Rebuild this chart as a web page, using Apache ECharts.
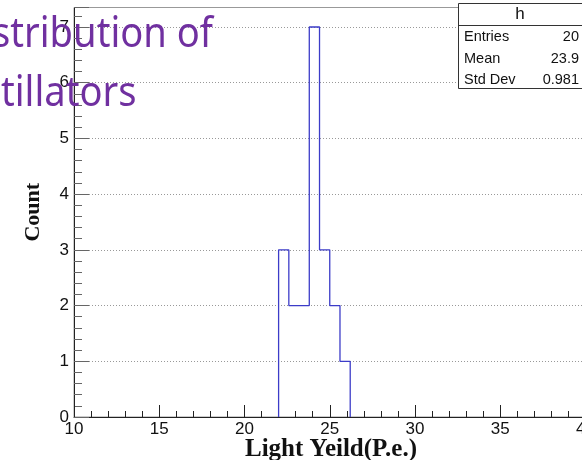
<!DOCTYPE html>
<html>
<head>
<meta charset="utf-8">
<script src="https://cdn.jsdelivr.net/npm/echarts@6/dist/echarts.min.js"></script>
<style>
html,body{margin:0;padding:0;background:#fff;overflow:hidden;width:582px;height:460px;}
#c{width:760px;height:460px;}
</style>
</head>
<body>
<div id="c"></div>
<script>
// Histogram bin edges (P.e.) and counts
var binEdges = [22.0, 22.6, 23.2, 23.8, 24.4, 25.0, 25.6, 26.2];
var counts = [3, 2, 2, 7, 3, 2, 1];
// Stats box
var statNames = ['Entries', 'Mean', 'Std Dev'];
var statValues = ['20', '23.9', '0.981'];
var histName = 'h';
// Axis ranges / ticks
var xMin = 10, xMax = 50, xStep = 5;
var yMin = 0, yMax = 7.35, yStep = 1;
var xTitle = 'Light Yeild(P.e.)';
var yTitle = 'Count';
var titleLines = ['stribution of', 'tillators'];

var pts = [[binEdges[0], 0]];
for (var i = 0; i < counts.length; i++) {
  pts.push([binEdges[i], counts[i]]);
  pts.push([binEdges[i + 1], counts[i]]);
}
pts.push([binEdges[binEdges.length - 1], 0]);

var chart = echarts.init(document.getElementById('c'), null, {renderer: 'canvas'});
var sans = '"Liberation Sans", Arial, sans-serif';
var serif = '"Liberation Serif", "Times New Roman", serif';

var statGraphics = [
  {type: 'rect', shape: {x: 458.5, y: 3.5, width: 130, height: 85}, style: {fill: '#fff', stroke: '#333', lineWidth: 1}, z: 100},
  {type: 'line', shape: {x1: 458.5, y1: 25.5, x2: 590, y2: 25.5}, style: {stroke: '#333', lineWidth: 1}, z: 101},
  {type: 'text', x: 520, y: 14.5, style: {text: histName, font: '17px ' + sans, fill: '#111', textAlign: 'center', textVerticalAlign: 'middle'}, z: 101}
];
for (var k = 0; k < statNames.length; k++) {
  var yy = 37 + k * 21.7;
  statGraphics.push({type: 'text', x: 464, y: yy, style: {text: statNames[k], font: '14.5px ' + sans, fill: '#111', textAlign: 'left', textVerticalAlign: 'middle'}, z: 101});
  statGraphics.push({type: 'text', x: 579, y: yy, style: {text: statValues[k], font: '14.5px ' + sans, fill: '#111', textAlign: 'right', textVerticalAlign: 'middle'}, z: 101});
}

var option = {
  backgroundColor: '#fff',
  animation: false,
  grid: {left: 74, right: 4, top: 7.5, bottom: 43, outerBoundsMode: 'none', containLabel: false,
    show: true, borderColor: '#999', borderWidth: 1, backgroundColor: 'transparent'},
  xAxis: {
    type: 'value', min: xMin, max: xMax, interval: xStep,
    axisLine: {show: true, lineStyle: {color: '#222', width: 1}},
    axisTick: {show: true, inside: true, length: 12, lineStyle: {color: '#222'}},
    minorTick: {show: true, splitNumber: 5, length: 6, lineStyle: {color: '#222'}},
    axisLabel: {fontFamily: sans, fontSize: 17, color: '#111', margin: 4, showMaxLabel: false},
    splitLine: {show: false}
  },
  yAxis: {
    type: 'value', min: yMin, max: yMax, interval: yStep,
    name: yTitle, nameLocation: 'middle', nameGap: 30, nameRotate: 90,
    nameTextStyle: {fontFamily: serif, fontWeight: 'bold', fontSize: 22, color: '#111'},
    axisLine: {show: true, lineStyle: {color: '#222', width: 1}},
    axisTick: {show: true, inside: true, length: 15, lineStyle: {color: '#666'}},
    minorTick: {show: true, splitNumber: 5, length: 8, lineStyle: {color: '#666'}},
    axisLabel: {fontFamily: sans, fontSize: 17, color: '#111', margin: 5,
      formatter: function (v) { return (Math.abs(v - Math.round(v)) < 1e-6) ? String(Math.round(v)) : ''; }},
    splitLine: {show: true, lineStyle: {color: '#999', type: [1, 2], width: 1}}
  },
  series: [{
    type: 'line', data: pts, showSymbol: false, symbol: 'none',
    lineStyle: {color: '#3c3cc8', width: 1.3}, z: 5
  }],
  graphic: statGraphics.concat([
    {type: 'text', x: 331, y: 450, style: {text: xTitle, font: 'bold 25px ' + serif, fill: '#111', textAlign: 'center', textVerticalAlign: 'middle'}, z: 150},
    {type: 'text', x: -8, y: 15, scaleX: 0.93, style: {text: titleLines[0], font: '41px "Noto Sans", sans-serif', fill: '#7030a0'}, z: 200},
    {type: 'text', x: 1, y: 74, scaleX: 0.93, style: {text: titleLines[1], font: '41px "Noto Sans", sans-serif', fill: '#7030a0'}, z: 200}
  ])
};
chart.setOption(option);
</script>
</body>
</html>
